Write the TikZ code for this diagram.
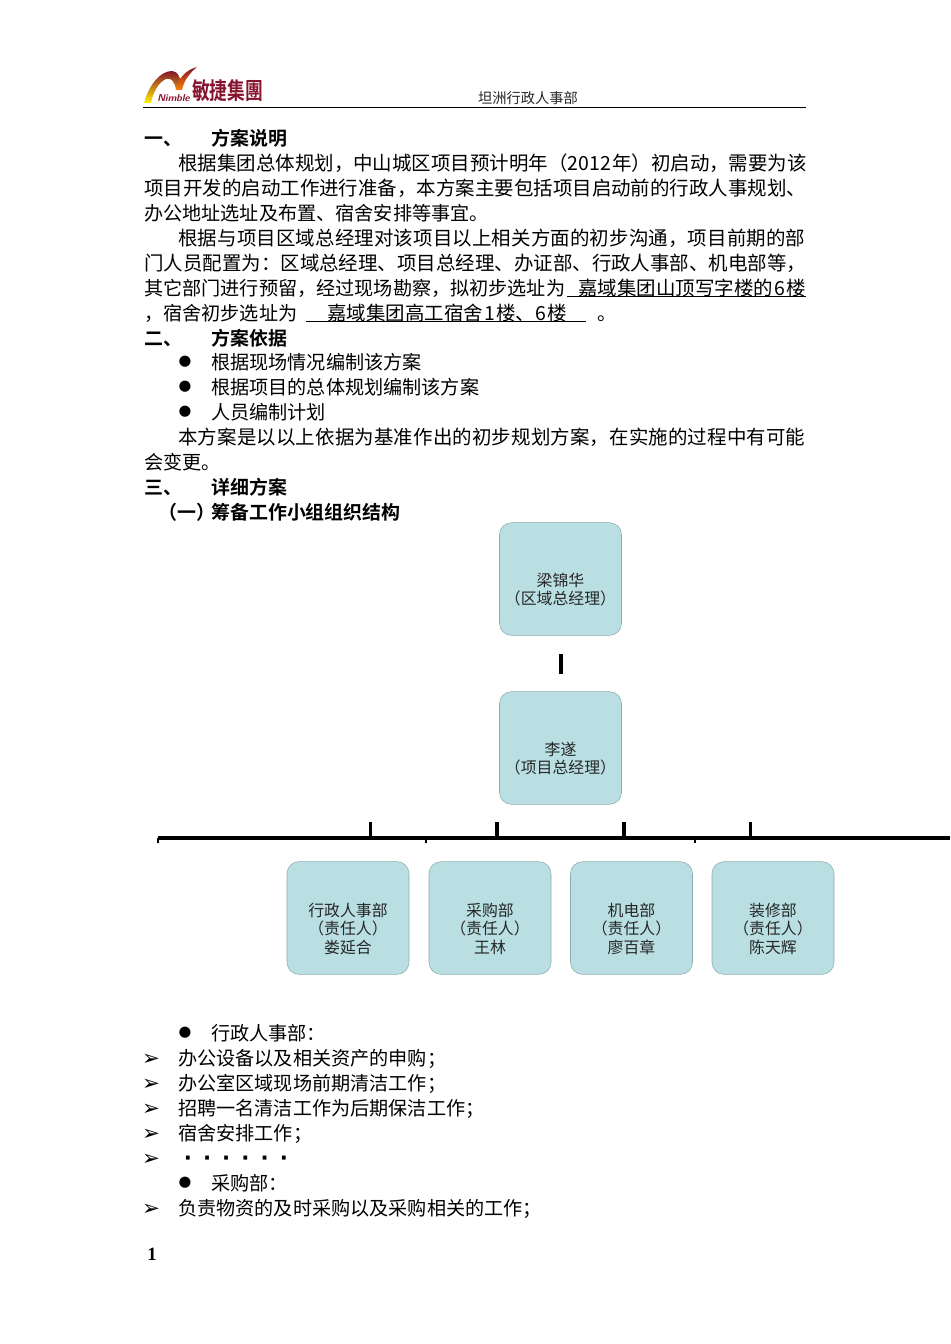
\documentclass[tikz,border=0pt]{standalone}
\usepackage{fontspec}
\setmainfont{Liberation Serif}
\newfontfamily\cjk{Noto Sans CJK SC}
\newfontfamily\cjkwide{Noto Sans CJK SC}[LetterSpace=0.7]
\newfontfamily\cjkbold{Noto Sans CJK SC Bold}
\newfontfamily\symfont{DejaVu Sans}
\usetikzlibrary{positioning}
\definecolor{boxfill}{RGB}{185,223,227}
\definecolor{boxline}{RGB}{140,170,172}
\definecolor{logored}{RGB}{135,20,45}
\tikzset{
    txt/.style={anchor=west,inner sep=0pt,text height=14pt,text depth=3pt,font=\fontsize{14.6}{16}\cjk},
    rag/.style={txt,font=\fontsize{14.35}{16}\cjk},
    wide/.style={txt,font=\fontsize{14.6}{16}\cjkwide},
    hd/.style={anchor=west,inner sep=0pt,text height=14pt,text depth=3pt,font=\fontsize{14.2}{16}\cjkbold},
    mk/.style={anchor=center,inner sep=0pt,font=\fontsize{11}{12}\symfont},
    arw/.style={anchor=center,inner sep=0pt,yshift=-1.2pt,font=\fontsize{16}{19}\symfont\bfseries},
    orgbox/.style={draw=boxline,fill=boxfill,rounded corners=9pt,minimum width=91.5pt,minimum height=84.5pt,inner sep=0pt,align=center,text=black!85,font=\fontsize{11.9}{13.9}\cjk},
    bar/.style={line width=2.6pt},
    tick/.style={line width=2.3pt}
}
\newcommand{\dotcell}{\makebox[14.4pt]{·}}
\newcommand{\topgap}{\mbox{}\\[12pt]}
\begin{document}
\begin{tikzpicture}[x=.75pt,y=-.75pt]
\useasboundingbox (0,0) rectangle (950,1344);
% logo and header
\shade[top color=logored,bottom color=yellow!90!orange] (144,103) .. controls (149,85) and (160,71) .. (172,71) .. controls (178,71) and (181,78) .. (182,90) -- (176,90) .. controls (175,82) and (171,77) .. (166,79) .. controls (159,82) and (153,92) .. (151,103) -- cycle;
\shade[top color=logored,bottom color=orange] (176,90) .. controls (178,78) and (186,70) .. (197,67) .. controls (190,73) and (184,80) .. (182,90) -- cycle;
\node[anchor=west,inner sep=0pt,font=\fontsize{7.5}{9}\sffamily\bfseries\itshape,text=logored] (nimble) at (157,98){Nimble};
\node[anchor=west,inner sep=0pt,xscale=.76,transform shape,font=\fontsize{17.5}{18}\cjkbold,text=logored] (logotxt) at (192,91){敏捷集團};
\node[anchor=center,inner sep=0pt,font=\fontsize{10.7}{12}\cjk,text=black!85] (dept) at (528,98){坦洲行政人事部};
\draw[line width=1pt] (143,107.5)--(806,107.5);
% section 1
\node[hd] (h1) at (144,138){一、};
\node[hd] (h1b) at (211,138){方案说明};
\node[txt] (p1) at (178,163){根据集团总体规划，中山城区项目预计明年（2012\hspace{1pt}年）初启动，需要为该};
\node[txt] (p2) at (144,188){项目开发的启动工作进行准备，本方案主要包括项目启动前的行政人事规划、};
\node[rag] (p3) at (144,213){办公地址选址及布置、宿舍安排等事宜。};
\node[wide] (p4) at (178,238){根据与项目区域总经理对该项目以上相关方面的初步沟通，项目前期的部};
\node[txt] (p5) at (144,263){门人员配置为：区域总经理、项目总经理、办证部、行政人事部、机电部等，};
\node[rag] (p6) at (144,288){其它部门进行预留，经过现场勘察，拟初步选址为};
\node[txt] (p6b) at (578,288){嘉域集团山顶写字楼的\hspace{1pt}6\hspace{1pt}楼};
\node[rag] (p7) at (144,313){，宿舍初步选址为};
\node[txt] (p7b) at (327,313){嘉域集团高工宿舍\hspace{1pt}1\hspace{1pt}楼、6\hspace{1pt}楼};
\node[txt] (p7c) at (597,313){。};
\draw[line width=.6pt] (567,296.5)--(806,296.5);
\draw[line width=.6pt] (306,321.5)--(586,321.5);
% section 2
\node[hd] (h2) at (144,338){二、};
\node[hd] (h2b) at (211,338){方案依据};
\node[mk] (m1) at (185,362){●};
\node[rag] (l1) at (211,362){根据现场情况编制该方案};
\node[mk] (m2) at (185,387){●};
\node[rag] (l2) at (211,387){根据项目的总体规划编制该方案};
\node[mk] (m3) at (185,412){●};
\node[rag] (l3) at (211,412){人员编制计划};
\node[wide] (p8) at (178,437){本方案是以以上依据为基准作出的初步规划方案，在实施的过程中有可能};
\node[rag] (p9) at (144,462){会变更。};
% section 3
\node[hd] (h3) at (144,487){三、};
\node[hd] (h3b) at (211,487){详细方案};
\node[hd] (h3c) at (158,512){（一）};
\node[hd] (h3d) at (211,512){筹备工作小组组织结构};
% org chart
\node[orgbox] (liang) at (560.5,579){\topgap 梁锦华\\（区域总经理）};
\node[orgbox] (li) at (560.5,748){\topgap 李遂\\（项目总经理）};
\node[orgbox] (xz) at (348,918){\topgap 行政人事部\\（责任人）\\娄延合};
\node[orgbox] (cg) at (490,918){\topgap 采购部\\（责任人）\\王林};
\node[orgbox] (jd) at (631.5,918){\topgap 机电部\\（责任人）\\廖百章};
\node[orgbox] (zx) at (773,918){\topgap 装修部\\（责任人）\\陈天辉};
\coordinate (stubtop) at (561,654);
\coordinate (stubbot) at (561,674);
\draw[bar] (stubtop)--(stubbot);
\coordinate (barl) at (158,838);
\coordinate (barr) at (950,838);
\draw[bar] (barl)--(barr);
\coordinate (t1) at (370.5,822);
\coordinate (t2) at (497,822);
\coordinate (t3) at (624,822);
\coordinate (t4) at (750.5,822);
\foreach \n in {t1,t2,t3,t4}
    \draw[tick] (\n)--++(0,16);
\coordinate (d1) at (158,838);
\coordinate (d2) at (426,838);
\coordinate (d3) at (695,838);
\foreach \n in {d1,d2,d3}
    \draw[line width=2pt] (\n)--++(0,5);
% duties
\node[mk] (m4) at (185,1033){●};
\node[rag] (l4) at (211,1033){行政人事部：};
\foreach \y/\n/\s in {1058/a1/办公设备以及相关资产的申购；,1083/a2/办公室区域现场前期清洁工作；,1108/a3/招聘一名清洁工作为后期保洁工作；,1133/a4/宿舍安排工作；,1208/a6/负责物资的及时采购以及采购相关的工作；}{
    \node[arw] (m\n) at (151,\y){➢};
    \node[rag] (\n) at (178,\y){\s};
}
\node[arw] (ma5) at (151,1158){➢};
\node[txt,font=\fontsize{16}{16}\symfont\bfseries] (a5) at (178,1158){\dotcell\dotcell\dotcell\dotcell\dotcell\dotcell};
\node[mk] (m5) at (185,1183){●};
\node[rag] (l5) at (211,1183){采购部：};
\node[anchor=center,inner sep=0pt,font=\fontsize{14}{16}\bfseries] (pg) at (152,1254){1};
\end{tikzpicture}
\end{document}
